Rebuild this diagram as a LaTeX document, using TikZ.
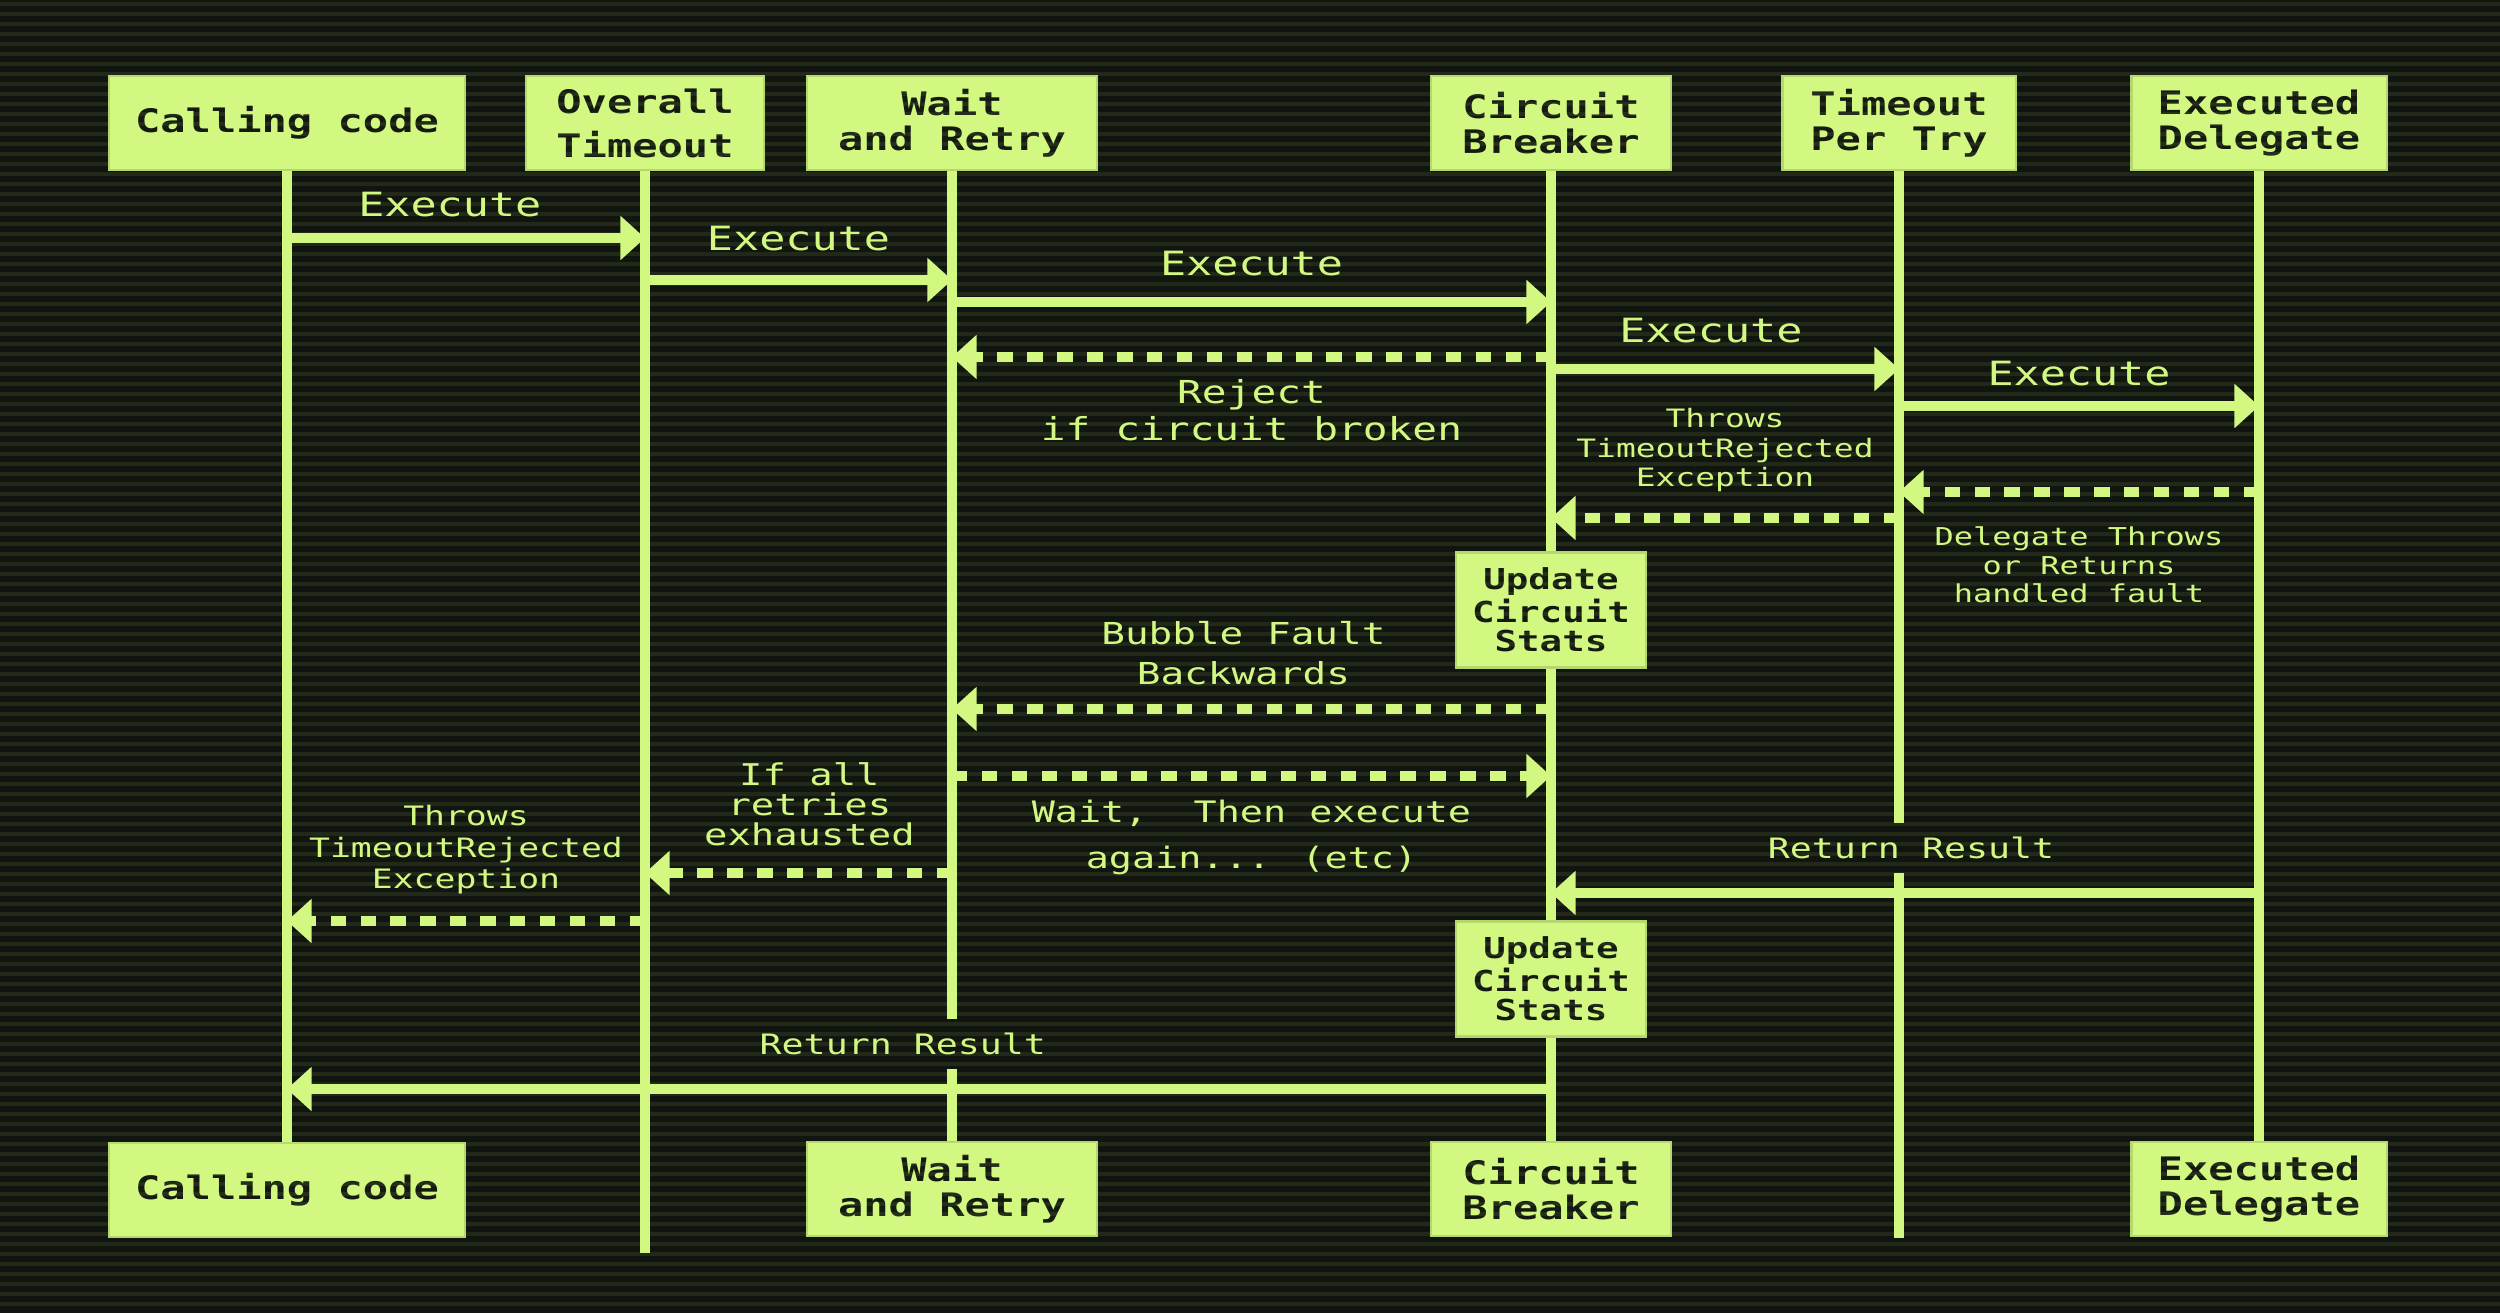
\documentclass[tikz,border=0pt]{standalone}
\usepackage{fontspec}
\usepackage{tikz}
\usetikzlibrary{arrows.meta, positioning}
\newfontfamily\pixfont[FakeStretch=1.3]{DejaVu Sans Mono}
\newcommand{\pf}[2]{\pixfont\fontsize{#1}{#2}\selectfont}
\definecolor{crtbg}{HTML}{11150F}
\definecolor{crtgreen}{HTML}{D2F882}
\definecolor{crtedge}{HTML}{B5D66E}
\definecolor{crtink}{HTML}{141A10}
\tikzset{x=0.01cm, y=-0.01cm, >={Triangle[length=7pt, width=12.2pt]},
  actor/.style={rectangle, fill=crtgreen, draw=crtedge, line width=0.6pt, text=crtink,
    align=center, minimum height=0.94cm, inner sep=0pt, font=\pf{9.2}{10}\bfseries},
  stats/.style={actor, minimum width=1.9cm, minimum height=1.15cm, font=\pf{8.2}{8.3}\bfseries},
  life/.style={draw=crtgreen, line width=2.6pt},
  msg/.style={->, draw=crtgreen, line width=3pt},
  reply/.style={msg, dash pattern=on 4.4pt off 4.1pt},
  lbl/.style={text=crtgreen, align=center, inner sep=0pt},
  gap/.style={fill=crtbg, inner ysep=4pt, inner xsep=2pt},
  scan/.style={draw=crtgreen, opacity=0.09, line width=0.9pt}}

\begin{document}
\begin{tikzpicture}
    \useasboundingbox (0,0) rectangle (2500,1313);
    \fill[crtbg] (0,0) rectangle (2500,1313);

    % participants
    \node[actor, minimum width=3.56cm] (cc)  at (287,123)  {Calling code};
    \node[actor, minimum width=2.37cm] (ot)  at (645,123)  {Overall\\[2.5pt]Timeout};
    \node[actor, minimum width=2.9cm]  (wr)  at (952,123)  {Wait\\and Retry};
    \node[actor, minimum width=2.4cm]  (cb)  at (1551,123) {Circuit\\Breaker};
    \node[actor, minimum width=2.33cm] (tpt) at (1899,123) {Timeout\\Per Try};
    \node[actor, minimum width=2.55cm] (ed)  at (2259,123) {Executed\\Delegate};

    \node[actor, minimum width=3.56cm] (ccb) at (287,1190)  {Calling code};
    \node[actor, minimum width=2.9cm]  (wrb) at (952,1189)  {Wait\\and Retry};
    \node[actor, minimum width=2.4cm]  (cbb) at (1551,1189) {Circuit\\Breaker};
    \node[actor, minimum width=2.55cm] (edb) at (2259,1189) {Executed\\Delegate};

    \node[stats] (up1) at (1551,610) {Update\\Circuit\\Stats};
    \node[stats] (up2) at (1551,979) {Update\\Circuit\\Stats};

    \coordinate (otend)  at (645,1253);
    \coordinate (tptend) at (1899,1238);

    % lifelines
    \draw[life] (cc.south) -- (ccb.north);
    \draw[life] (ot.south) -- (otend);
    \draw[life] (wr.south) -- (wrb.north);
    \draw[life] (cb.south) -- (up1.north) (up1.south) -- (up2.north) (up2.south) -- (cbb.north);
    \draw[life] (tpt.south) -- (tptend);
    \draw[life] (ed.south) -- (edb.north);

    % calls
    \draw[msg] (cc |- 0,238) -- node[lbl, font=\pf{9.5}{10}, xshift=-4.6pt, yshift=9.4pt] {Execute} (ot |- 0,238);
    \draw[msg] (ot |- 0,280) -- node[lbl, font=\pf{9.5}{10}, yshift=11.7pt] {Execute} (wr |- 0,280);
    \draw[msg] (wr |- 0,302) -- node[lbl, font=\pf{9.5}{10}, yshift=10.8pt] {Execute} (cb |- 0,302);
    \draw[reply] (cb |- 0,357) -- node[lbl, font=\pf{9}{10.5}, yshift=-15.1pt] {Reject\\if circuit broken} (wr |- 0,357);
    \draw[msg] (cb |- 0,369) -- node[lbl, font=\pf{9.5}{10}, xshift=-4pt, yshift=10.8pt] {Execute} (tpt |- 0,369);
    \draw[msg] (tpt |- 0,406) -- node[lbl, font=\pf{9.5}{10}, yshift=9.1pt] {Execute} (ed |- 0,406);

    % faults
    \draw[reply] (ed |- 0,492) -- node[lbl, font=\pf{7}{8.1}, yshift=-20.8pt] {Delegate Throws\\or Returns\\handled fault} (tpt |- 0,492);
    \draw[reply] (tpt |- 0,518) -- node[lbl, font=\pf{7.2}{8.4}, yshift=19.3pt] {Throws\\TimeoutRejected\\Exception} (cb |- 0,518);
    \draw[reply] (cb |- 0,709) -- node[lbl, font=\pf{8.6}{11.4}, xshift=-2.3pt, yshift=15.9pt] {Bubble Fault\\Backwards} (wr |- 0,709);
    \draw[reply] (wr |- 0,776) -- node[lbl, font=\pf{8.4}{13}, yshift=-17.4pt] {Wait,\ \ Then execute\\again... (etc)} (cb |- 0,776);
    \draw[reply] (wr |- 0,873) -- node[lbl, font=\pf{8.5}{8.6}, xshift=3.1pt, yshift=19.6pt] {If all\\retries\\exhausted} (ot |- 0,873);
    \draw[reply] (ot |- 0,921) -- node[lbl, font=\pf{7.6}{9}, yshift=20.2pt] {Throws\\TimeoutRejected\\Exception} (cc |- 0,921);

    % results
    \draw[msg] (ed |- 0,893) -- node[lbl, gap, font=\pf{8}{9}, xshift=1.7pt, yshift=12.8pt] {Return Result} (cb |- 0,893);
    \draw[msg] (cb |- 0,1089) -- node[lbl, gap, font=\pf{8}{9}, xshift=-4.6pt, yshift=12.8pt] {Return Result} (cc |- 0,1089);

    % scanlines
    \foreach \y in {4,14,...,1313}
        \draw[scan] (0,\y) -- (2500,\y);
\end{tikzpicture}
\end{document}
